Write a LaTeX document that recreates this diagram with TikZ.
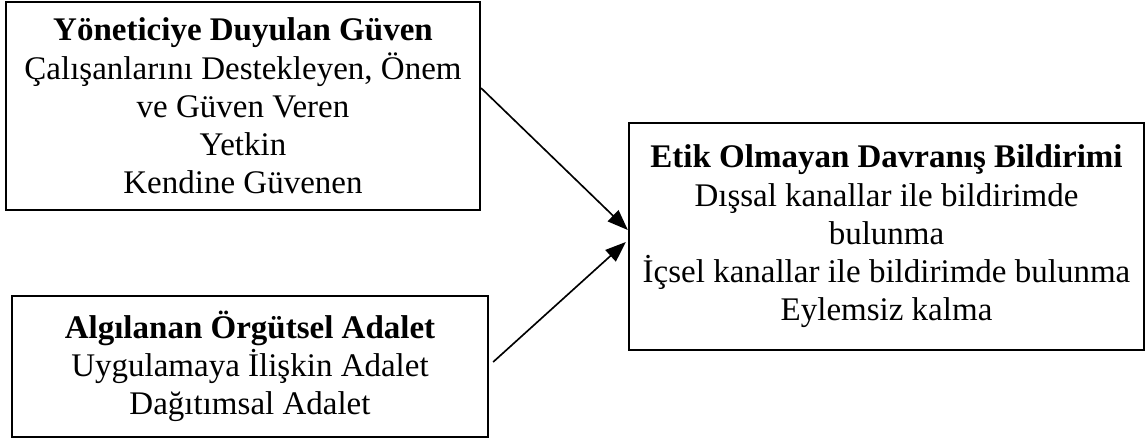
\documentclass[tikz,border=0pt]{standalone}
\usepackage{fontspec}
\setmainfont{Liberation Serif}
\usetikzlibrary{arrows.meta, calc}
\tikzset{
  box/.style={
    draw,
    align=center,
    font=\fontsize{12}{13.9}\selectfont,
    line width=0.8pt,
    inner sep=0pt,
  },
  arr/.style={-{Triangle[length=7.5pt, width=5.6pt]}, line width=0.6pt},
}

\begin{document}
\begin{tikzpicture}[x=0.3636pt, y=-0.3636pt]
\useasboundingbox (0,0) rectangle (1146,440);

% Boxes
\node[box, minimum width=172.3pt, minimum height=75.6pt] (guven) at (243,106)
  {\textbf{Yöneticiye Duyulan Güven}\\Çalışanlarını Destekleyen, Önem\\ve Güven Veren\\Yetkin\\Kendine Güvenen};
\node[box, minimum width=173.1pt, minimum height=51.3pt] (adalet) at (250,366.5)
  {\textbf{Algılanan Örgütsel Adalet}\\Uygulamaya İlişkin Adalet\\Dağıtımsal Adalet};
\node[box, minimum width=187.3pt, minimum height=82.5pt] (bildirim) at (886.5,236.5)
  {\textbf{Etik Olmayan Davranış Bildirimi}\\Dışsal kanallar ile bildirimde\\bulunma\\İçsel kanallar ile bildirimde bulunma\\Eylemsiz kalma};

% Arrows
\coordinate (s1) at ($(guven.east)+(0,-18)$);
\coordinate (s2) at ($(adalet.east)+(4,-4.5)$);
\draw[arr] (s1) -- ($(bildirim.west)+(0,-6.5)$);
\draw[arr] (s2) -- ($(bildirim.west)+(-2,5.5)$);

\end{tikzpicture}
\end{document}
